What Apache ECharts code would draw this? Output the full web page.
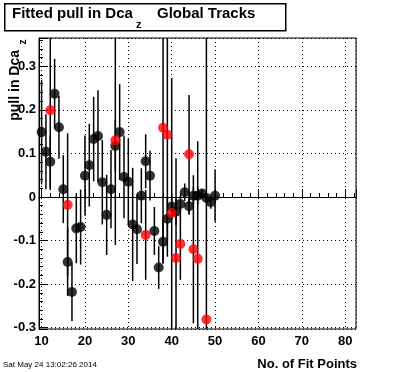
<!DOCTYPE html>
<html>
<head>
<meta charset="utf-8">
<script src="https://cdn.jsdelivr.net/npm/echarts@6/dist/echarts.min.js"></script>
<style>
html,body{margin:0;padding:0;background:#fff;}
#c{width:396px;height:372px;}
</style>
</head>
<body>
<div id="c"></div>
<script>
// ---- data ----
var blackX = [10,11,12,13,14,15,16,17,18,19,20,21,22,23,24,25,26,27,28,29,30,31,32,33,34,35,36,37,38,39,40,41,42,43,44,45,46,47,48,49,50];
var blackY = [0.149,0.104,0.081,0.237,0.160,0.018,-0.149,-0.218,-0.072,-0.069,0.049,0.073,0.133,0.140,0.034,-0.041,0.018,0.117,0.149,0.046,0.035,-0.063,-0.074,0.003,0.082,0.049,-0.078,-0.162,-0.103,-0.050,-0.022,-0.034,-0.016,0.011,-0.021,0.003,0.003,0.008,-0.002,-0.012,0.003];
var blackErr = [0.12,0.086,0.06,0.08,0.072,0.078,0.078,0.067,0.08,0.086,0.092,0.095,0.097,0.105,0.097,0.092,0.09,0.06,0.11,0.095,0.10,0.13,0.08,0.063,0.062,0.057,0.055,0.049,0.05,0.05,0.03,0.03,0.02,0.02,0.02,0.02,0.02,0.01,0.01,0.015,0.06];
var redX = [12,16,27,34,38,39,40,41,42,44,45,46,48];
var redY = [0.199,-0.018,0.130,-0.087,0.159,0.143,-0.037,-0.140,-0.108,0.098,-0.120,-0.142,-0.281];
var redErr = [0.183,0.164,0.24,0.103,0.31,0.28,0.31,0.229,0.082,0.136,0.17,0.27,0.8];

var titleMain = 'Fitted pull in Dca';
var titleSub = 'z';
var titleTail = 'Global Tracks';
var yName = 'pull in Dca';
var ySub = 'z';
var xName = 'No. of Fit Points';
var dateText = 'Sat May 24 13:02:26 2014';

var xMin = 9.4, xMax = 82.5, xStep = 10;
var yMin = -0.303, yMax = 0.365, yStep = 0.1;

function zip3(a,b,c){ return a.map(function(v,i){ return [v,b[i],c[i]]; }); }
var blackData = zip3(blackX, blackY, blackErr);
var redData = zip3(redX, redY, redErr);

var FONT = '"Liberation Sans", Arial, Helvetica, sans-serif';

function errRender(params, api){
  var x = api.value(0), y = api.value(1), e = api.value(2);
  var p1 = api.coord([x, y + e]);
  var p2 = api.coord([x, y - e]);
  var cs = params.coordSys;
  var top = Math.max(p1[1], cs.y);
  var bot = Math.min(p2[1], cs.y + cs.height);
  if (bot <= top) return null;
  return {type:'line', shape:{x1:p1[0], y1:top, x2:p1[0], y2:bot}, style:{stroke:'#000', lineWidth:1.5}};
}

var chart = echarts.init(document.getElementById('c'), null, {renderer:'canvas'});
chart.setOption({
  animation:false,
  backgroundColor:'#fff',
  grid:{left:39, right:40, top:38, bottom:43, show:true, borderColor:'#000', borderWidth:1, backgroundColor:'transparent'},
  xAxis:{
    type:'value', min:xMin, max:xMax, minInterval:xStep, maxInterval:xStep, splitNumber:7,
    axisLine:{show:true, lineStyle:{color:'#000', width:1}},
    axisTick:{show:true, inside:true, length:8, lineStyle:{color:'#000', width:1}},
    minorTick:{show:true, splitNumber:5, length:4, lineStyle:{color:'#000', width:1}},
    splitLine:{show:true, lineStyle:{color:'#000', width:1, type:[1,3]}},
    axisLabel:{show:true, showMinLabel:false, showMaxLabel:false, margin:6, color:'#000', fontFamily:FONT, fontWeight:'bold', fontSize:13,
      formatter:function(v){ return (Math.abs(v/xStep - Math.round(v/xStep))<1e-6) ? String(Math.round(v)) : ''; }}
  },
  yAxis:{
    type:'value', min:yMin, max:yMax, minInterval:yStep, maxInterval:yStep, splitNumber:6,
    axisLine:{show:true, lineStyle:{color:'#000', width:1}},
    axisTick:{show:true, inside:true, length:8, lineStyle:{color:'#000', width:1}},
    minorTick:{show:true, splitNumber:5, length:4, lineStyle:{color:'#000', width:1}},
    splitLine:{show:true, lineStyle:{color:'#000', width:1, type:[1,3]}},
    axisLabel:{show:true, showMinLabel:false, showMaxLabel:false, margin:3, color:'#000', fontFamily:FONT, fontWeight:'bold', fontSize:13,
      formatter:function(v){ var r = Math.round(v*10)/10; if (Math.abs(v - r) > 1e-6) return ''; return r === 0 ? '0' : r.toFixed(1); }}
  },
  series:[
    {type:'custom', renderItem:errRender, data:blackData, encode:{x:0, y:1}, z:2, silent:true},
    {type:'scatter', data:blackData.map(function(d){return [d[0], d[1]];}), symbol:'circle', symbolSize:10, itemStyle:{color:'#000'}, z:3, silent:true},
    {type:'custom', renderItem:errRender, data:redData, encode:{x:0, y:1}, z:4, silent:true},
    {type:'scatter', data:redData.map(function(d){return [d[0], d[1]];}), symbol:'circle', symbolSize:10, itemStyle:{color:'#ff0000'}, z:5, silent:true}
  ],
  graphic:[
    {type:'rect', left:4, top:3, shape:{width:281, height:27}, style:{fill:'#fff', stroke:'#000', lineWidth:1.5}, z:10},
    {type:'text', x:12, y:14, style:{text:titleMain, font:'bold 15px ' + FONT, fill:'#000', textVerticalAlign:'middle', textAlign:'left'}, z:11},
    {type:'text', x:136, y:25, style:{text:titleSub, font:'bold 11px ' + FONT, fill:'#000', textVerticalAlign:'middle', textAlign:'left'}, z:11},
    {type:'text', x:157, y:14, style:{text:titleTail, font:'bold 15px ' + FONT, fill:'#000', textVerticalAlign:'middle', textAlign:'left'}, z:11},
    {type:'text', x:15, y:50, rotation:Math.PI/2, style:{text:yName, font:'bold 14px ' + FONT, fill:'#000', textVerticalAlign:'middle', textAlign:'right'}, z:11},
    {type:'text', x:23, y:42, rotation:Math.PI/2, style:{text:ySub, font:'bold 10px ' + FONT, fill:'#000', textVerticalAlign:'middle', textAlign:'center'}, z:11},
    {type:'text', x:357, y:364, style:{text:xName, font:'bold 13px ' + FONT, fill:'#000', textVerticalAlign:'middle', textAlign:'right'}, z:11},
    {type:'text', x:3, y:365, style:{text:dateText, font:'8px ' + FONT, fill:'#000', textVerticalAlign:'middle', textAlign:'left'}, z:11}
  ]
});
</script>
</body>
</html>
